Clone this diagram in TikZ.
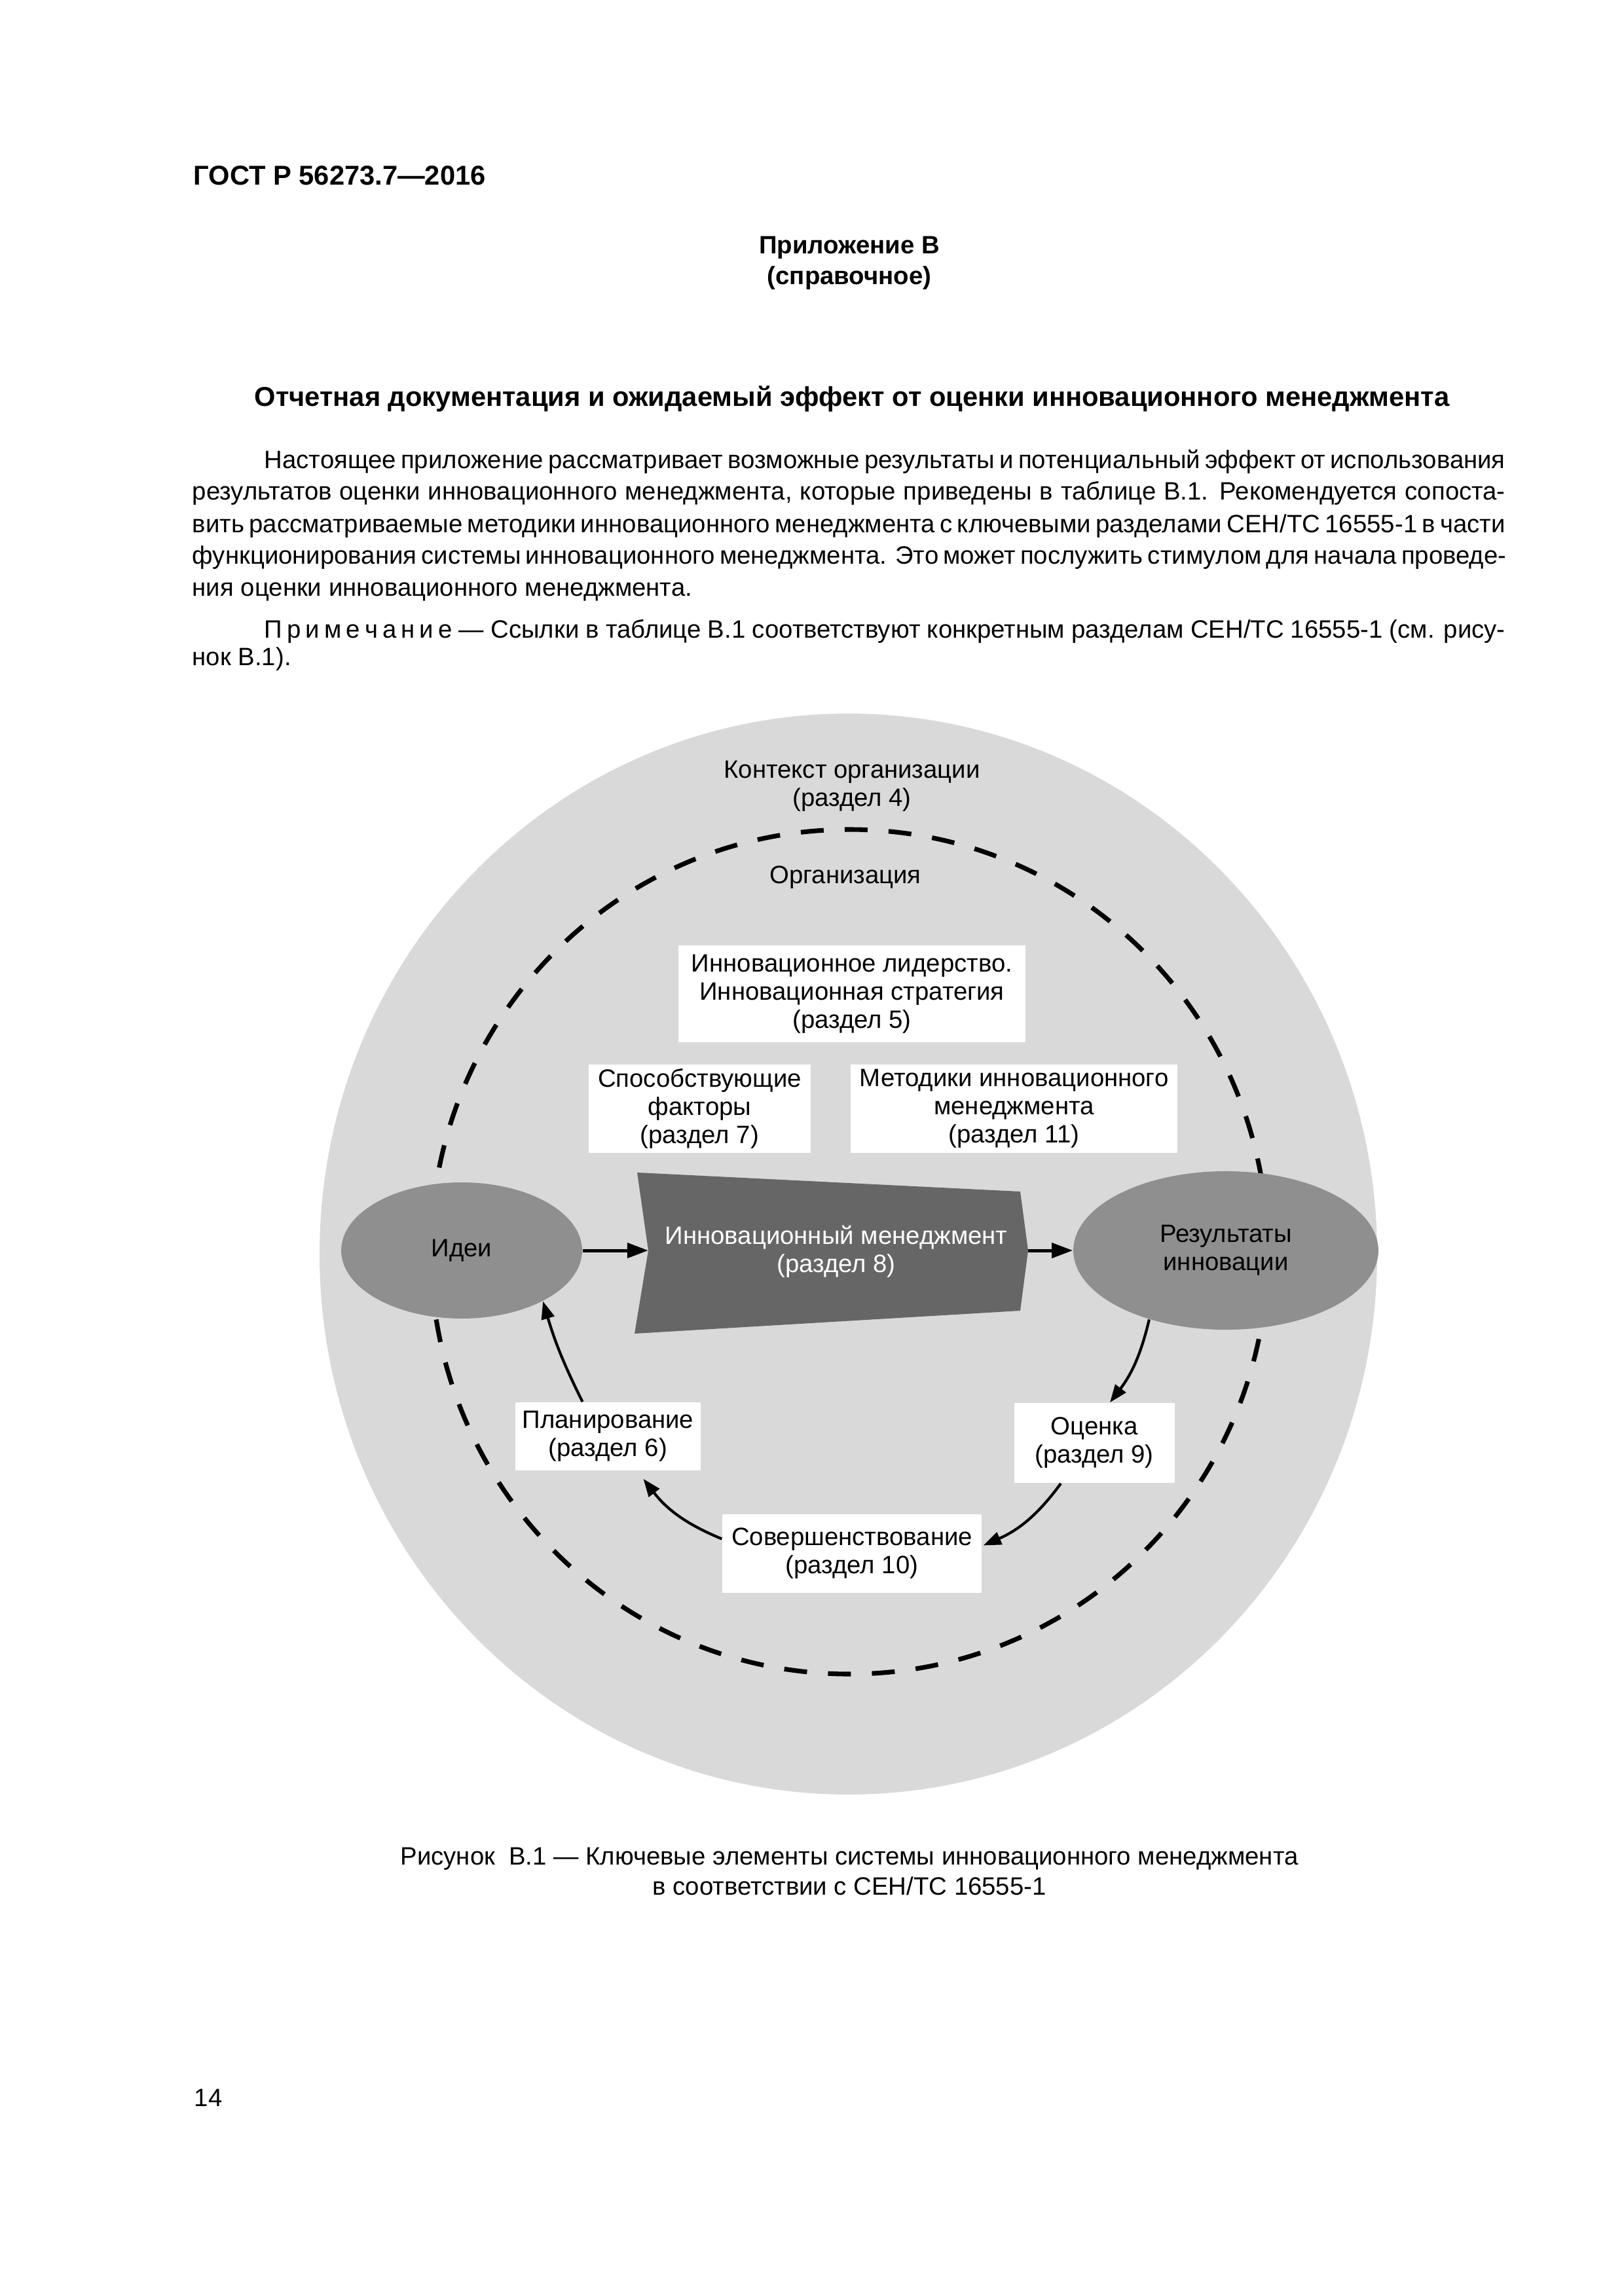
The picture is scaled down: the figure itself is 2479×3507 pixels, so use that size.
\documentclass[tikz,border=0pt]{standalone}
\usepackage{fontspec}
\setmainfont{Liberation Sans}
\usetikzlibrary{arrows.meta,calc,shapes.geometric}
\definecolor{outergray}{gray}{0.85}
\definecolor{ellgray}{gray}{0.56}
\definecolor{trapgray}{gray}{0.40}
\begin{document}
\begin{tikzpicture}[x=0.24pt,y=-0.24pt,
  txt/.style={font=\fontsize{9.2}{11.7}\selectfont, inner sep=0pt, anchor=mid west},
  hbold/.style={font=\bfseries\fontsize{9.2}{11}\selectfont, inner sep=0pt, anchor=mid},
  captxt/.style={font=\fontsize{9.2}{11}\selectfont, inner sep=0pt, anchor=mid},
  lab/.style={font=\fontsize{9.2}{10.3}\selectfont, inner sep=0pt, align=center},
  wbox/.style={lab, fill=white},
  ell/.style={lab, ellipse, fill=ellgray},
  dashring/.style={line width=1.7pt, dash pattern=on 8.4pt off 7.7pt},
  arr/.style={line width=1.2pt, -{Triangle[length=7.7pt,width=5.4pt]}},
  carr/.style={line width=1pt, -{Triangle[length=6.5pt,width=4.8pt]}}]
\useasboundingbox (0,0) rectangle (2479,3507);

% header
\node[font=\bfseries\fontsize{10}{12}\selectfont, inner sep=0pt, anchor=mid west] (gost) at (295,272) {ГОСТ Р 56273.7—2016};
\node[hbold] (app) at (1297,377) {Приложение В};
\node[hbold] (spr) at (1297,424) {(справочное)};
\node[hbold, font=\bfseries\fontsize{10}{12}\selectfont] (title) at (1301,610) {Отчетная документация и ожидаемый эффект от оценки инновационного менеджмента};

% paragraph
\node[txt] (p1) at (403,704) {\makebox[454.8pt][s]{Настоящее приложение рассматривает возможные результаты и потенциальный эффект от использования}};
\node[txt] (p2) at (293,753) {\makebox[481.2pt][s]{результатов оценки инновационного менеджмента, которые приведены в таблице В.1. Рекомендуется сопоста-}};
\node[txt] (p3) at (293,802) {\makebox[481.2pt][s]{вить рассматриваемые методики инновационного менеджмента с ключевыми разделами СЕН/ТС 16555-1 в части}};
\node[txt] (p4) at (293,850) {\makebox[481.2pt][s]{функционирования системы инновационного менеджмента. Это может послужить стимулом для начала проведе-}};
\node[txt] (p5) at (293,899) {ния оценки инновационного менеджмента.};
\node[txt] (n1) at (403,963) {\makebox[454.8pt][s]{\mbox{П\kern1.7pt р\kern1.7pt и\kern1.7pt м\kern1.7pt е\kern1.7pt ч\kern1.7pt а\kern1.7pt н\kern1.7pt и\kern1.7pt е} — Ссылки в таблице В.1 соответствуют конкретным разделам СЕН/ТС 16555-1 (см. рису-}};
\node[txt] (n2) at (293,1005) {нок В.1).};

% diagram
\fill[outergray] (1295.5,1915.5) ellipse (807.5 and 825.5);
\draw[dashring] (1297,1912) ellipse (639 and 645);

\node[lab] (ctx) at (1301,1201) {Контекст организации\\(раздел 4)};
\node[lab] (org) at (1291,1340) {Организация};

\node[wbox, minimum width=127.2pt, minimum height=35.3pt] (b5) at (1301,1518) {Инновационное лидерство.\\Инновационная стратегия\\(раздел 5)};
\node[wbox, minimum width=81.4pt, minimum height=32.4pt] (b7) at (1068.5,1693.5) {Способствующие\\факторы\\(раздел 7)};
\node[wbox, minimum width=119.8pt, minimum height=32.4pt] (b11) at (1548.5,1693.5) {Методики инновационного\\менеджмента\\(раздел 11)};

\fill[trapgray] (973,1791) -- (1558,1820) -- (1570,1910) -- (1558,2002) -- (969,2037) -- (990,1910) -- cycle;
\coordinate (trapL) at (990,1910);
\coordinate (trapR) at (1570,1910);
\node[lab, text=white] (im) at (1277,1912) {Инновационный менеджмент\\(раздел 8)};

\node[ell, minimum width=88.3pt, minimum height=49.9pt] (ideas) at (705,1910) {Идеи};
\node[ell, minimum width=111.8pt, minimum height=58.1pt] (res) at (1872,1910) {Результаты\\инновации};

\node[wbox, minimum width=67.7pt, minimum height=25pt] (b6) at (928.5,2194) {Планирование\\(раздел 6)};
\node[wbox, minimum width=58.8pt, minimum height=29.3pt] (b9) at (1671,2204) {Оценка\\(раздел 9)};
\node[wbox, minimum width=95pt, minimum height=28.8pt] (b10) at (1301,2372.5) {Совершенствование\\(раздел 10)};

\draw[arr] (ideas.east) -- (trapL);
\draw[arr] (trapR) -- (res.west);
\draw[carr] (res.222) to[bend left=12] ($(b9.north)+(24,0)$);
\draw[carr] ($(b9.south)+(-51,0)$) to[bend left=15] ($(b10.east)+(2,-12)$);
\draw[carr] ($(b10.west)+(0,-22)$) to[bend left=15] ($(b6.south)+(54,12)$);
\draw[carr] ($(b6.north)+(-39,0)$) to[bend left=5] (ideas.-32);

% caption
\node[captxt] (c1) at (1297,2837) {Рисунок\ \ В.1 — Ключевые элементы системы инновационного менеджмента};
\node[captxt] (c2) at (1297,2883) {в соответствии с СЕН/ТС 16555-1};
\node[txt] (pg) at (296,3206) {14};
\end{tikzpicture}
\end{document}
